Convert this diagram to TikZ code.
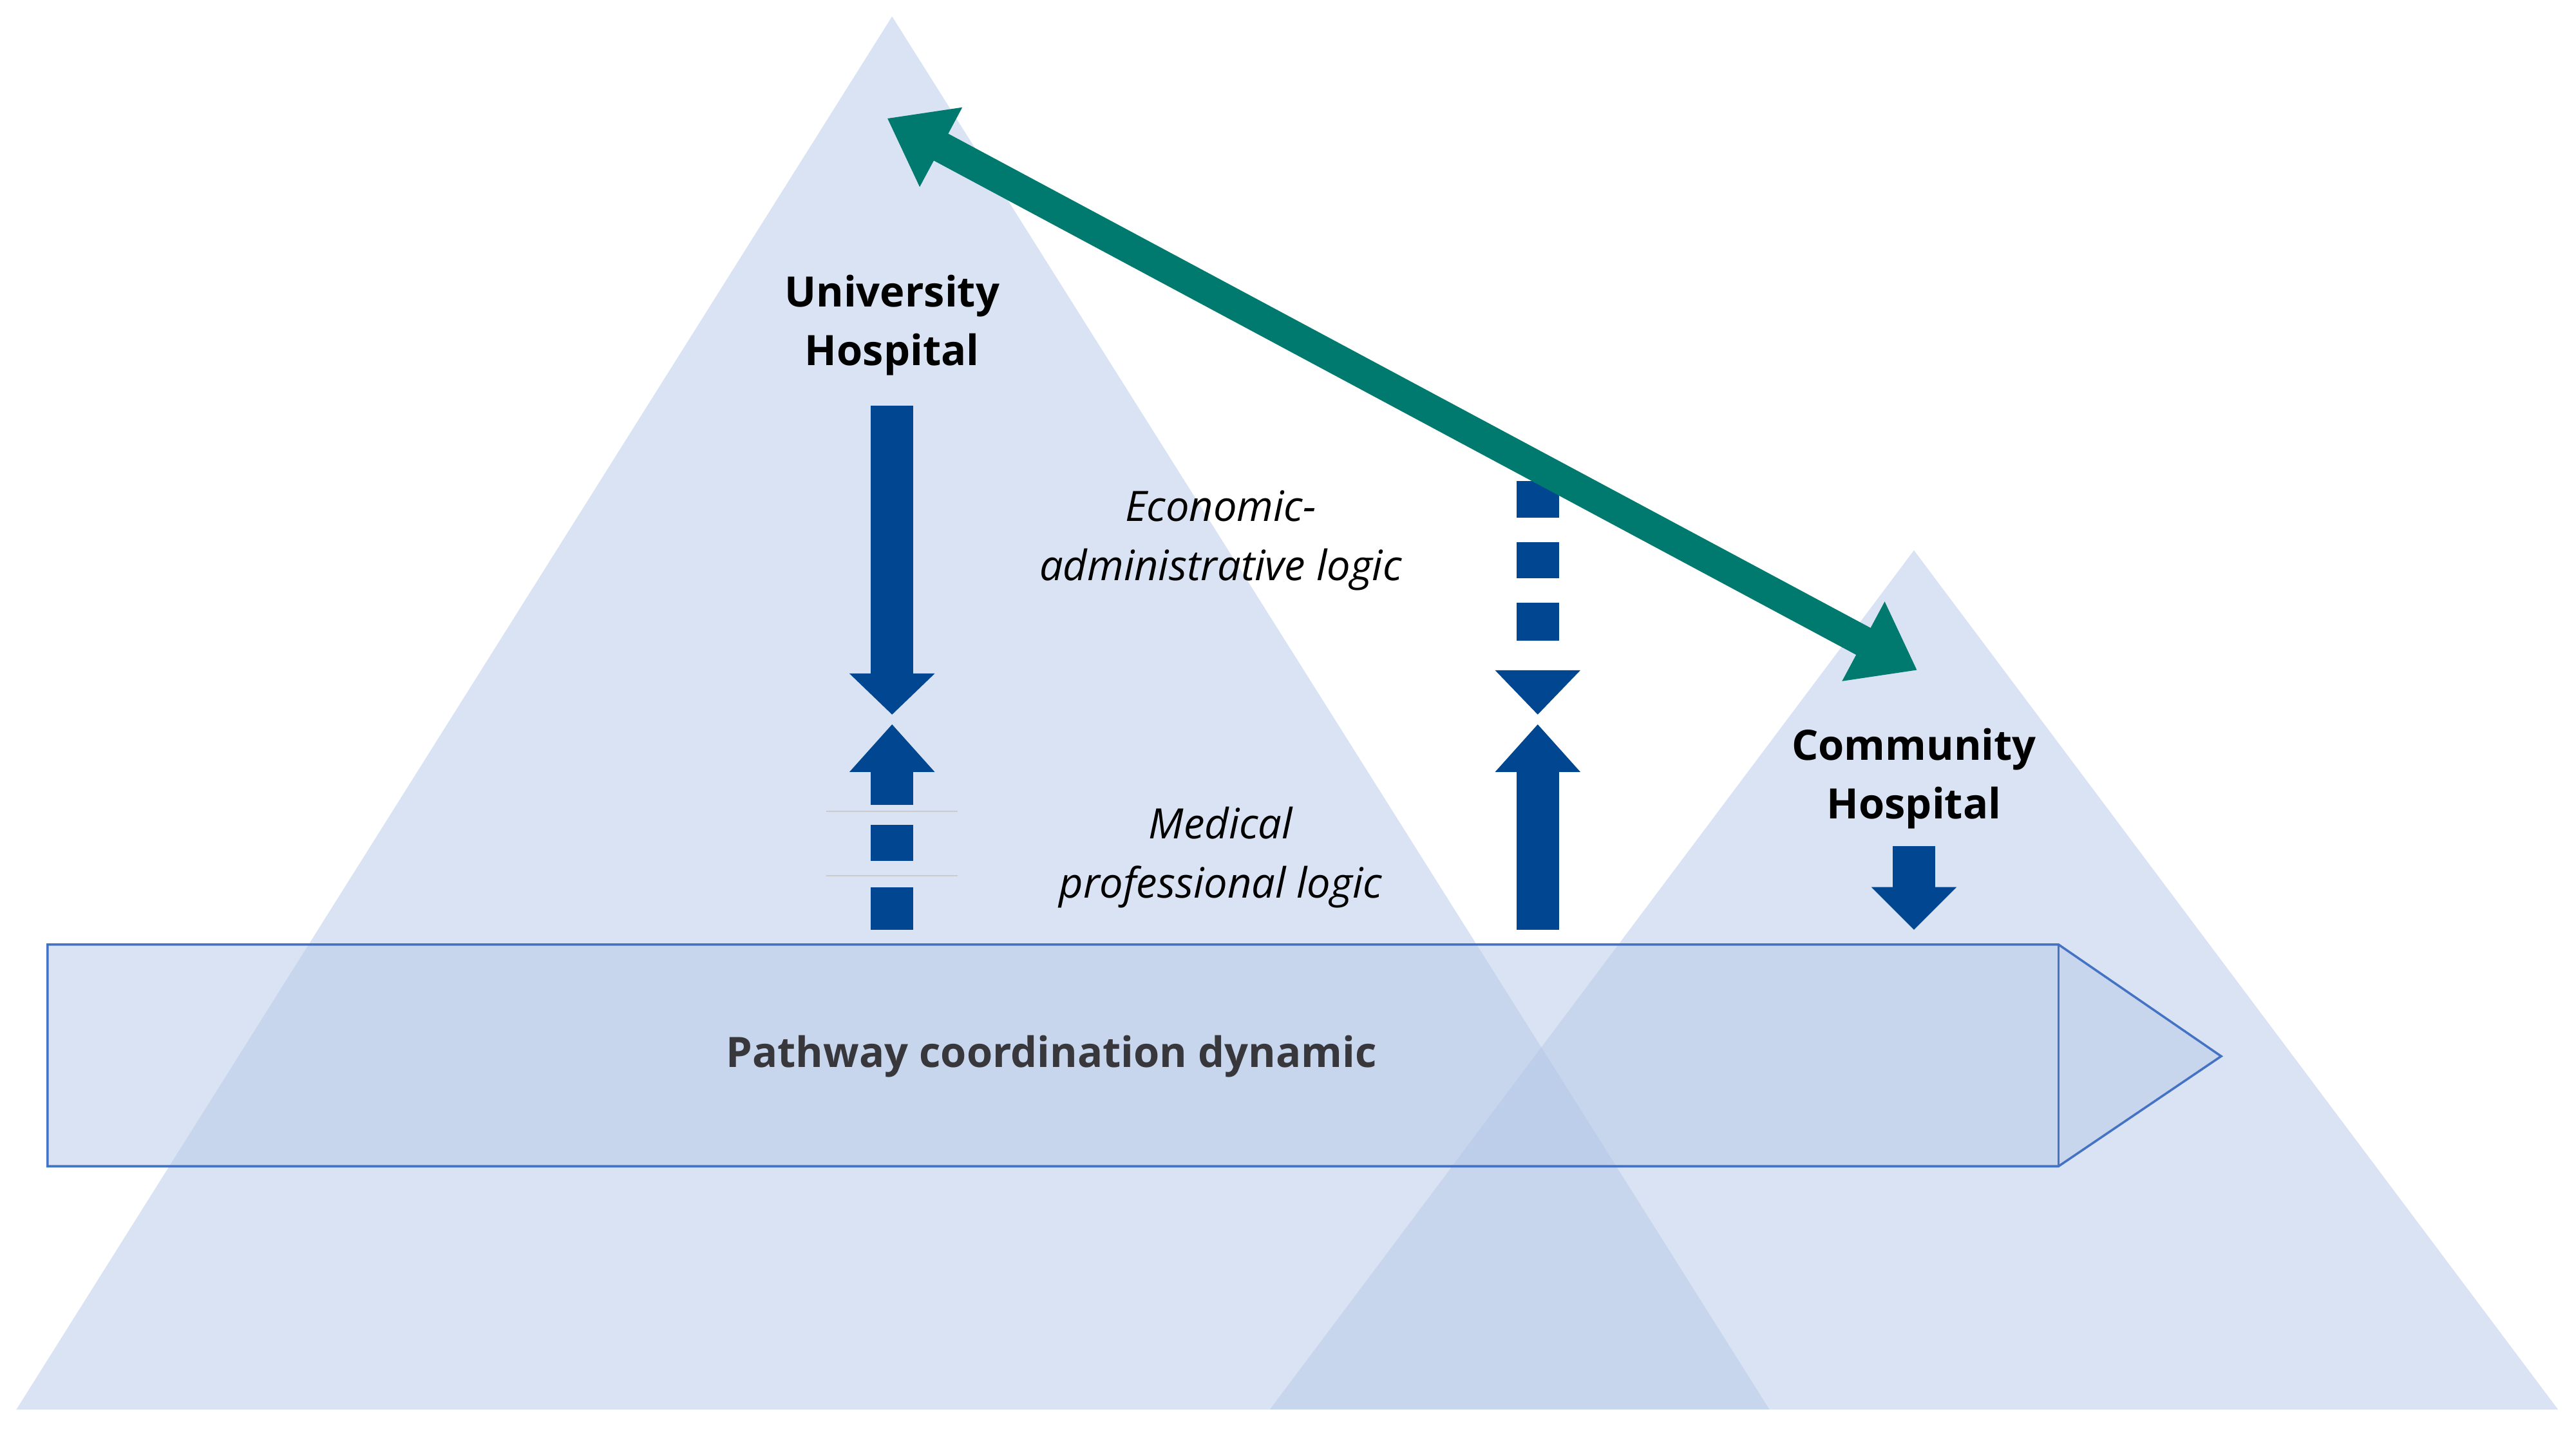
\documentclass[tikz,border=0pt]{standalone}
\usepackage{fontspec}
\setmainfont{Open Sans}
\usetikzlibrary{arrows.meta}
\definecolor{tri}{RGB}{180,199,231}
\definecolor{barc}{RGB}{0,70,145}
\definecolor{teal}{RGB}{0,122,110}
\definecolor{edge}{RGB}{68,114,196}
\definecolor{txt}{RGB}{55,55,60}
\tikzset{
  lbl/.style={font=\fontsize{18.5}{26}\selectfont\bfseries, align=center, text=black},
  ital/.style={font=\fontsize{18.5}{26}\selectfont\itshape, align=center, text=black},
  bl/.style={fill=barc, draw=none},
  tr/.style={fill=tri, fill opacity=0.5, draw=none}
}
\begin{document}
\begin{tikzpicture}[x=0.02551cm,y=-0.02551cm]
\useasboundingbox (0,0) rectangle (1568,872.6);
\fill[tr] (543,10) -- (1077,858) -- (10,858) -- cycle;
\fill[tr] (1165,335) -- (1557,858) -- (773,858) -- cycle;
\path[fill=tri, fill opacity=0.5, draw=edge, line width=1pt] (29,575) -- (1253,575) -- (1352,643) -- (1253,710) -- (29,710) -- cycle;
\draw[edge, line width=1pt] (1253,575) -- (1253,710);
\node[lbl, text=txt] (path) at (640,643) {Pathway coordination dynamic};
\node[lbl] (uh) at (543,198) {University\\Hospital};
\node[lbl] (ch) at (1165,474) {Community\\Hospital};
\node[ital] (eco) at (743,329) {Economic-\\administrative logic};
\node[ital] (med) at (743,522) {Medical\\professional logic};
% UH down arrow
\fill[bl] (530,247) rectangle (556,410);
\fill[bl] (517,410) -- (569,410) -- (543,435) -- cycle;
% UH up dashed arrow
\fill[bl] (517,470) -- (569,470) -- (543,441) -- cycle;
\fill[bl] (530,470) rectangle (556,490);
\fill[bl] (530,502) rectangle (556,524);
\fill[bl] (530,540) rectangle (556,566);
\draw[gray!40, line width=0.5pt] (503,494) -- (583,494) (503,533) -- (583,533);
% middle dashed down
\fill[bl] (923,293) rectangle (949,315);
\fill[bl] (923,330) rectangle (949,352);
\fill[bl] (923,367) rectangle (949,390);
\fill[bl] (910,408) -- (962,408) -- (936,435) -- cycle;
% middle up
\fill[bl] (910,470) -- (962,470) -- (936,441) -- cycle;
\fill[bl] (923,470) rectangle (949,566);
% CH down
\fill[bl] (1152,515) rectangle (1178,541);
\fill[bl] (1139,540) -- (1191,540) -- (1165,566) -- cycle;
% teal
\coordinate (t1) at (540,72);
\coordinate (t2) at (1167,408);
\draw[teal, line width=13.5pt, {Triangle[width=38pt,length=27pt]}-{Triangle[width=38pt,length=27pt]}] (t1) -- (t2);
\end{tikzpicture}
\end{document}
